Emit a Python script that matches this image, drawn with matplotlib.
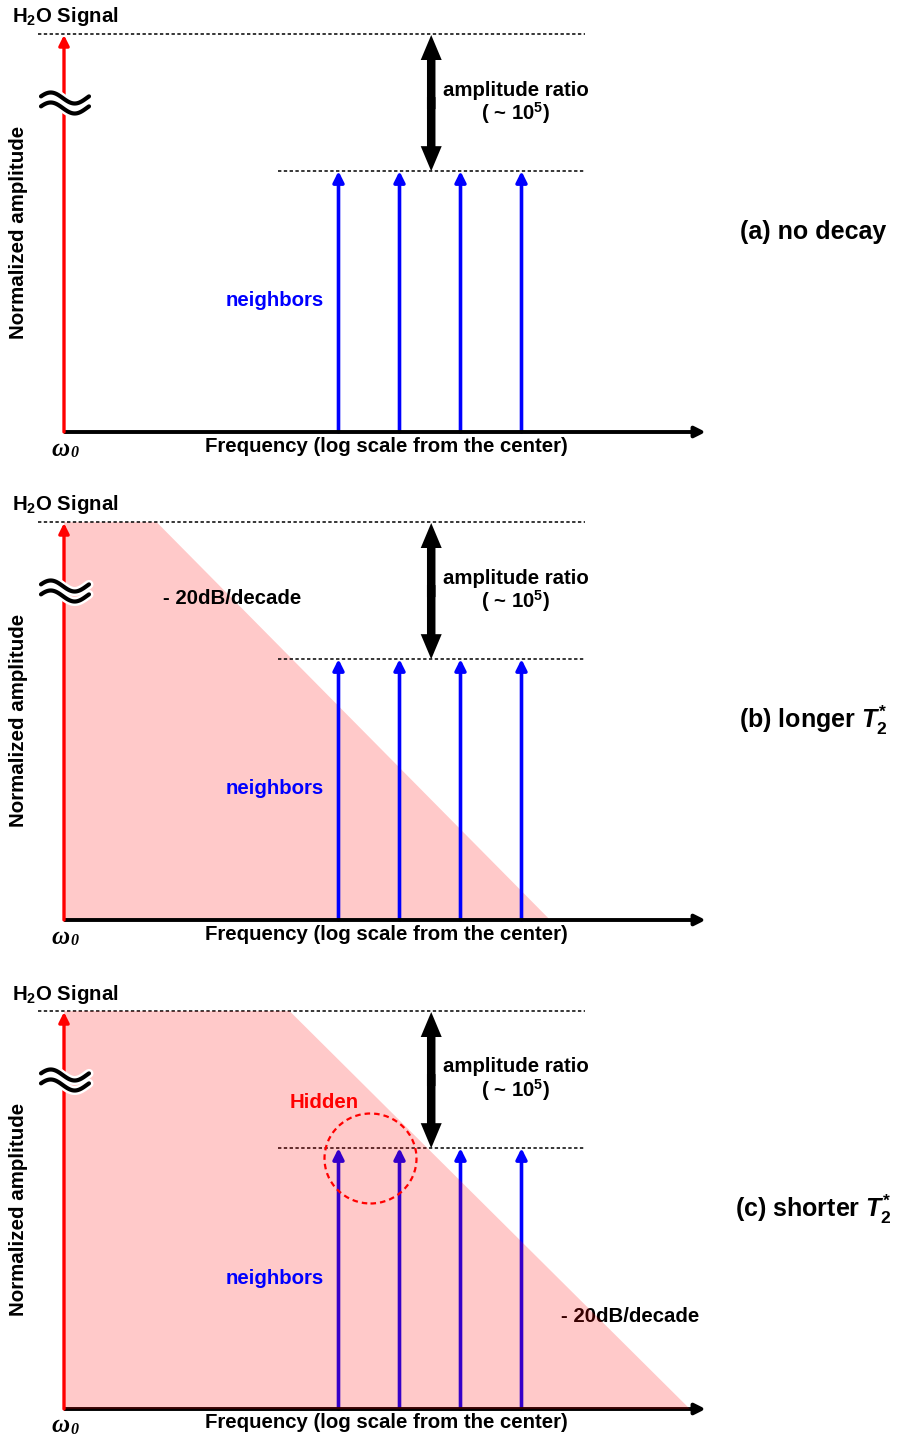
import numpy as np
import matplotlib
matplotlib.use("Agg")
import matplotlib.pyplot as plt
from matplotlib.patches import Polygon, Ellipse, FancyArrowPatch, FancyArrow

plt.rcParams['font.family'] = ['Liberation Sans', 'DejaVu Sans']
plt.rcParams['font.weight'] = 'bold'
plt.rcParams['mathtext.fontset'] = 'custom'
plt.rcParams['mathtext.rm'] = 'Liberation Sans:bold'
plt.rcParams['mathtext.it'] = 'Liberation Sans:bold:italic'
plt.rcParams['mathtext.bf'] = 'Liberation Sans:bold'

# ---------------- data ----------------
panel_labels = ['(a) no decay', r'(b) longer $T^{*}_{\mathit{2}}$', r'(c) shorter $T^{*}_{\mathit{2}}$']
neighbor_freqs = [4.5, 5.5, 6.5, 7.5]        # log-frequency units from centre
water_amp = 1.0                               # normalized amplitude of H2O peak
neighbor_amp = 0.657                          # neighbors (broken axis, ratio ~1e5)
decay_knee = [None, 1.52, 3.70]               # where -20 dB/decade roll-off starts
decay_end = [None, 7.97, 10.26]               # where roll-off reaches baseline
freq_axis_end = 10.52
top_line_start = -0.43
neighbor_line_start = 3.51
lines_end = 8.54
ratio_arrow_freq = 6.02

# ---------------- geometry helpers (pixel -> data) ----------------
W, H = 900, 1439
PX_UNIT = 61.0
PY_UNIT = 397.0
X0 = 64.0
BASE = 432.0
panel_offsets = [0, 488, 977]
panel_h = 488.5


def X(px):
    return (px - X0) / PX_UNIT


def Y(py):
    return (BASE - py) / PY_UNIT


fig = plt.figure(figsize=(W / 100, H / 100), dpi=100)

blue = '#0000ff'
pink = (1.0, 0.0, 0.0, 0.21)
FS = 14.7

for i, off in enumerate(panel_offsets):
    ax = fig.add_axes([0, 1 - (off + panel_h) / H, 1, panel_h / H])
    ax.set_xlim(X(0), X(W))
    ax.set_ylim(Y(panel_h), Y(0))
    ax.axis('off')

    # decay region
    if decay_knee[i] is not None:
        poly = Polygon([(0, 0), (0, water_amp + 0.002), (decay_knee[i], water_amp + 0.002),
                        (decay_end[i], 0)], closed=True, facecolor=pink, edgecolor='none',
                       zorder=1 if i == 1 else 6)
        ax.add_patch(poly)

    # dashed reference lines
    ax.plot([top_line_start, lines_end], [water_amp + 0.003] * 2, color='black',
            lw=1.1, ls=(0, (2.2, 1.6)), zorder=4)
    ax.plot([neighbor_line_start, lines_end], [neighbor_amp] * 2, color='black',
            lw=1.1, ls=(0, (2.2, 1.6)), zorder=4)

    # neighbor arrows
    for f in neighbor_freqs:
        ax.add_patch(FancyArrowPatch((f, 0), (f, neighbor_amp), arrowstyle='-|>',
                                     mutation_scale=16, lw=2.6, color=blue,
                                     shrinkA=0, shrinkB=0, zorder=3))

    # water (red) arrow
    ax.add_patch(FancyArrowPatch((0, 0), (0, water_amp), arrowstyle='-|>',
                                 mutation_scale=15, lw=2.4, color='#ff0000',
                                 shrinkA=0, shrinkB=0, zorder=7))

    # frequency axis
    ax.add_patch(FancyArrowPatch((0, 0), (freq_axis_end, 0), arrowstyle='-|>',
                                 mutation_scale=16, lw=2.8, color='black',
                                 shrinkA=0, shrinkB=0, zorder=5, capstyle='butt'))

    # amplitude ratio double arrow (two filled arrows overlapping at the middle)
    mid = 0.5 * (water_amp + neighbor_amp)
    ov = 6 / PY_UNIT
    for start, end in ((mid - ov, water_amp), (mid + ov, neighbor_amp)):
        ax.add_patch(FancyArrow(ratio_arrow_freq, start, 0, end - start,
                                width=8.5 / PX_UNIT, head_width=21 / PX_UNIT,
                                head_length=25 / PY_UNIT, length_includes_head=True,
                                facecolor='black', edgecolor='none', lw=0, zorder=5))
    ax.text(X(516), Y(90), 'amplitude ratio', ha='center', va='center', fontsize=FS,
            fontweight='bold', zorder=8)
    ax.text(X(516), Y(113), r'( ~ 10$^{5}$)', ha='center', va='center', fontsize=FS,
            fontweight='bold', zorder=8)

    # broken-axis symbol
    t = np.linspace(0, 1, 60)
    xs = X(41) + t * (X(89) - X(41))
    for dy in (-5, 5):
        ys = Y(103 + dy) + (5.5 / PY_UNIT) * np.sin(2 * np.pi * t + 0.3)
        ax.plot(xs, ys, color='white', lw=6.5, solid_capstyle='round', zorder=9)
        ax.plot(xs, ys, color='black', lw=3.0, solid_capstyle='round', zorder=10)

    # labels
    ax.text(X(12), Y(17), r'H$_{2}$O Signal', ha='left', va='center', fontsize=FS,
            fontweight='bold', zorder=8)
    ax.text(X(19), Y(232), 'Normalized amplitude', ha='center', va='center',
            rotation=90, fontsize=14.8, fontweight='bold', zorder=8)
    ax.text(X(386), Y(446), 'Frequency (log scale from the center)', ha='center',
            va='center', fontsize=FS, fontweight='bold', zorder=8)
    ax.text(X(70), Y(449), 'ω', ha='right', va='center', fontsize=18,
            family='Liberation Serif', style='italic', fontweight='bold', zorder=8)
    ax.text(X(70), Y(453), '0', ha='left', va='center', fontsize=11.5,
            family='Liberation Serif', style='italic', fontweight='bold', zorder=8)
    ax.text(X(275), Y(301), 'neighbors', ha='center', va='center', fontsize=FS,
            fontweight='bold', color=blue, zorder=8)
    ax.text(X(813), Y(232), panel_labels[i], ha='center', va='center', fontsize=18,
            fontweight='bold', zorder=8)

    if i == 1:
        ax.text(X(232), Y(111), '- 20dB/decade', ha='center', va='center', fontsize=FS,
                fontweight='bold', zorder=4)
    if i == 2:
        ax.text(X(630), Y(339), '- 20dB/decade', ha='center', va='center', fontsize=FS,
                fontweight='bold', zorder=4)
        ax.text(X(324), Y(125), 'Hidden', ha='center', va='center', fontsize=FS,
                fontweight='bold', color='#ff0000', zorder=8)
        ax.add_patch(Ellipse((X(370.5), Y(181.5)), 2 * 46 / PX_UNIT, 2 * 45 / PY_UNIT,
                             fill=False, edgecolor='#ff0000', lw=1.6,
                             ls=(0, (2.5, 1.8)), zorder=8))

fig.savefig('out.png', dpi=100, facecolor='white')
